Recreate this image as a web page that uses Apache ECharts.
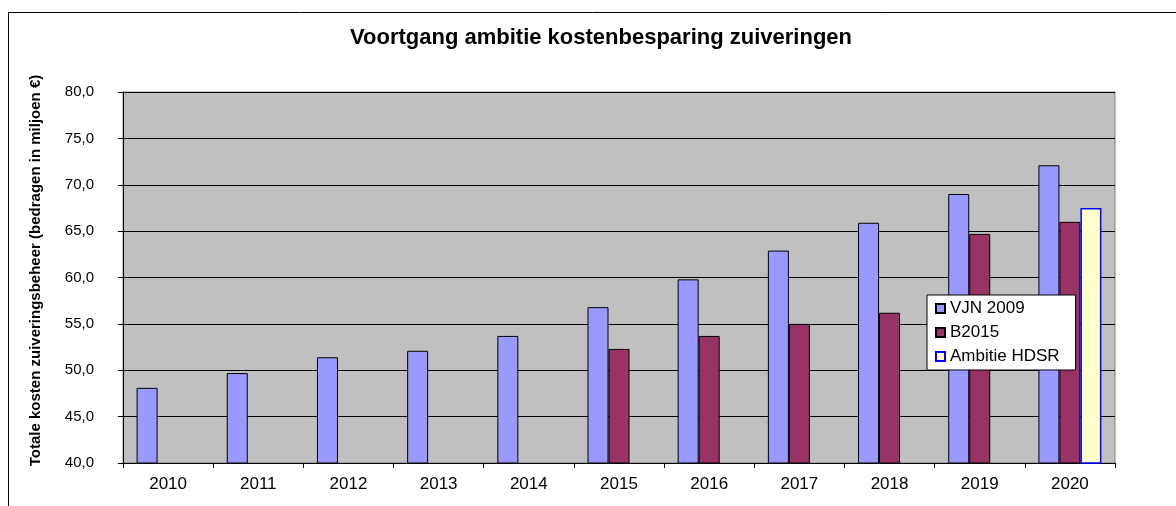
<!DOCTYPE html>
<html>
<head>
<meta charset="utf-8">
<script src="https://cdn.jsdelivr.net/npm/echarts@6/dist/echarts.min.js"></script>
<style>html,body{margin:0;padding:0;background:#fff}#c{width:1176px;height:506px}</style>
</head>
<body>
<div id="c"></div>
<script>
const categories = ['2010','2011','2012','2013','2014','2015','2016','2017','2018','2019','2020'];
const vjn2009 = [48.1, 49.7, 51.4, 52.1, 53.7, 56.8, 59.8, 62.9, 65.9, 69.0, 72.1];
const b2015 = [null, null, null, null, null, 52.3, 53.7, 55.0, 56.2, 64.7, 66.0];
const ambitieHDSR = [null, null, null, null, null, null, null, null, null, null, 67.5];
const seriesNames = ['VJN 2009', 'B2015', 'Ambitie HDSR'];
const titleText = 'Voortgang ambitie kostenbesparing zuiveringen';
const yAxisTitle = 'Totale kosten zuiveringsbeheer (bedragen in miljoen €)';

const chart = echarts.init(document.getElementById('c'), null, {renderer: 'canvas'});
const font = 'Liberation Sans, Arial, sans-serif';
chart.setOption({
  animation: false,
  backgroundColor: '#ffffff',
  graphic: [{
    type: 'rect', z: -1, silent: true,
    shape: {x: 8.5, y: 12.5, width: 1200, height: 520},
    style: {fill: 'none', stroke: '#000', lineWidth: 1}
  }],
  title: {
    text: titleText, left: 596, top: 22, textAlign: 'center',
    textStyle: {fontFamily: font, fontSize: 22, fontWeight: 'bold', color: '#000'}
  },
  legend: {
    orient: 'vertical', left: 927, top: 295,
    padding: [5, 16, 5, 8],
    backgroundColor: '#fff', borderColor: '#000', borderWidth: 1,
    itemWidth: 9, itemHeight: 9, itemGap: 7,
    icon: 'rect',
    textStyle: {fontFamily: font, fontSize: 17, color: '#000', padding: [0, 0, 0, 0]},
    data: seriesNames
  },
  grid: {
    left: 123, right: 61, top: 92, bottom: 43,
    show: true, backgroundColor: '#C0C0C0', borderColor: '#808080', borderWidth: 1
  },
  xAxis: {
    type: 'category', data: categories,
    axisLine: {lineStyle: {color: '#000', width: 1}},
    axisTick: {show: true, length: 5, lineStyle: {color: '#000'}},
    axisLabel: {fontFamily: font, fontSize: 17, color: '#000', margin: 13}
  },
  yAxis: {
    type: 'value', min: 40, max: 80, interval: 5,
    name: yAxisTitle, nameLocation: 'middle', nameGap: 80, nameRotate: 90,
    nameTextStyle: {fontFamily: font, fontSize: 15, fontWeight: 'bold', color: '#000', padding: [0, 0, 0, 14]},
    axisLine: {show: true, lineStyle: {color: '#000', width: 1}},
    axisTick: {show: true, length: 5, lineStyle: {color: '#000'}},
    axisLabel: {fontFamily: font, fontSize: 15, color: '#000', margin: 29,
      formatter: v => v.toFixed(1).replace('.', ',')},
    splitLine: {show: true, lineStyle: {color: '#000', width: 1}}
  },
  series: [
    {name: seriesNames[0], type: 'bar', data: vjn2009, barWidth: 21, barGap: '0%',
     itemStyle: {color: '#9999FF', borderColor: '#000', borderWidth: 1}},
    {name: seriesNames[1], type: 'bar', data: b2015, barWidth: 21, barGap: '0%',
     itemStyle: {color: '#993366', borderColor: '#000', borderWidth: 1}},
    {name: seriesNames[2], type: 'bar', data: ambitieHDSR, barWidth: 21, barGap: '0%',
     itemStyle: {color: '#FFFFCC', borderColor: '#0000FF', borderWidth: 1.5}}
  ]
});
</script>
</body>
</html>
